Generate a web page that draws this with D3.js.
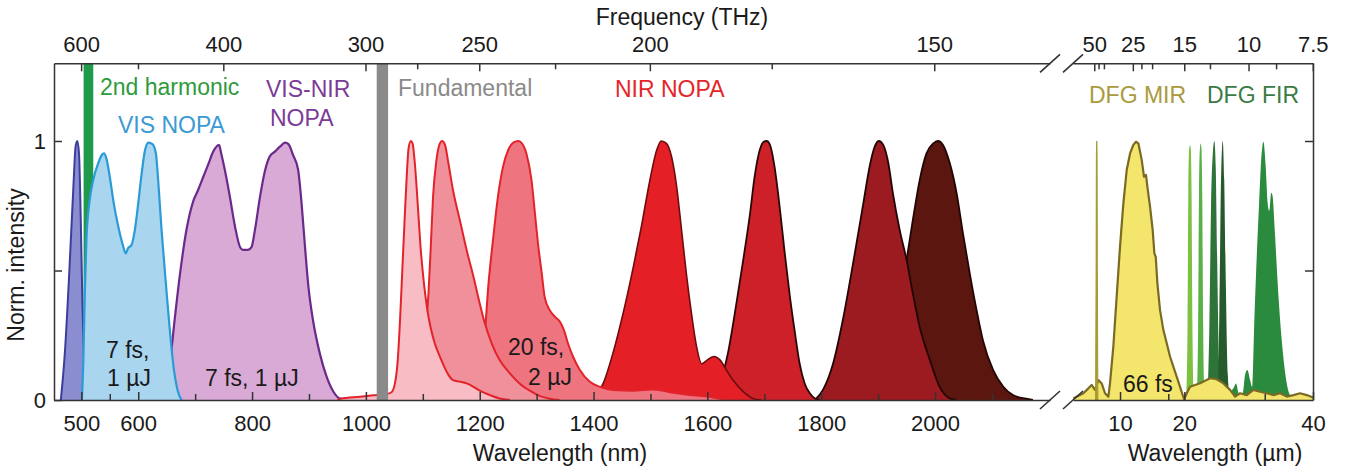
<!DOCTYPE html>
<html>
<head lang="en">
<meta charset="UTF-8">
<script src="https://cdn.jsdelivr.net/npm/d3@7/dist/d3.min.js"></script>
<style>
  body { margin: 0; background: #fff; }
  svg text { font-family: "Liberation Sans", Arial, sans-serif; }
</style>
</head>
<body>
<svg id="chart" width="1357" height="472"></svg>
<script>
// ---- data: wavelength in nm (left panel) / um (right panel), normalised intensity ----
var secondHarmonic = [504, 521];
var fundamental = [1019, 1039];

var blueSpec = [[464,0],[471,0.18],[479,0.5],[486,0.82],[490,0.98],[493,1.0],[496,0.95],[499,0.7],[502,0.37],[505,0.15],[508,0]];
var visNopa = [[501,0],[503.5,0.15],[506,0.4],[509,0.62],[514,0.76],[521,0.85],[529,0.91],[536,0.946],[540,0.952],[544,0.933],[550,0.862],[557,0.759],[565,0.669],[573,0.598],[578,0.566],[582,0.586],[588,0.598],[594,0.656],[600,0.759],[606,0.875],[612,0.965],[618,0.994],[625,0.988],[631,0.952],[635,0.849],[641,0.656],[649,0.438],[656,0.257],[662,0.129],[669,0.039],[676,0]];
var visNir = [[638,0],[647,0.05],[656,0.15],[664,0.31],[673,0.48],[685,0.66],[697,0.77],[705,0.81],[714,0.86],[723,0.91],[732,0.96],[738,0.98],[742,0.985],[746,0.95],[752,0.89],[761,0.785],[770,0.67],[779,0.59],[784,0.58],[793,0.58],[799,0.59],[805,0.656],[814,0.785],[823,0.888],[831,0.94],[840,0.959],[849,0.978],[858,0.994],[864,0.988],[872,0.946],[881,0.888],[887,0.759],[893,0.592],[899,0.438],[907,0.309],[919,0.18],[931,0.09],[943,0.032],[954,0.006],[966,0]];
var nirA = [[950,0],[955,0.005],[990,0.013],[1013,0.018],[1036,0.023],[1045,0.03],[1051,0.064],[1056,0.154],[1060,0.309],[1064,0.502],[1068,0.695],[1072,0.875],[1075,0.972],[1079,1.0],[1082,0.991],[1086,0.914],[1091,0.759],[1096,0.592],[1102,0.45],[1108,0.347],[1114,0.277],[1121,0.219],[1130,0.167],[1139,0.122],[1145,0.097],[1153,0.077],[1165,0.071],[1177,0.064],[1189,0.051],[1200,0.036],[1218,0.019],[1235,0.006],[1253,0]];
var nirB = [[1071,0],[1089,0.077],[1104,0.245],[1110,0.412],[1114,0.592],[1118,0.785],[1124,0.927],[1130,0.991],[1134,1.0],[1139,0.985],[1145,0.914],[1153,0.811],[1165,0.695],[1177,0.579],[1189,0.476],[1200,0.373],[1209,0.296],[1221,0.219],[1235,0.154],[1253,0.103],[1270,0.064],[1288,0.036],[1306,0.015],[1323,0.005],[1340,0]];
var nirC = [[1165,0],[1194,0.064],[1209,0.257],[1215,0.438],[1224,0.631],[1232,0.785],[1241,0.901],[1250,0.965],[1259,0.994],[1268,1.0],[1273,0.994],[1282,0.952],[1291,0.849],[1297,0.721],[1303,0.592],[1309,0.489],[1314,0.399],[1323,0.347],[1332,0.322],[1341,0.302],[1348,0.27],[1355,0.219],[1364,0.167],[1376,0.116],[1393,0.071],[1411,0.051],[1434,0.039],[1470,0.036],[1505,0.041],[1540,0.028],[1575,0.018],[1610,0.01],[1634,0]];
var nirD = [[1399,0],[1417,0.064],[1434,0.18],[1452,0.335],[1470,0.515],[1484,0.669],[1499,0.849],[1511,0.965],[1519,1.0],[1528,0.991],[1537,0.94],[1546,0.824],[1554,0.669],[1563,0.489],[1572,0.335],[1581,0.206],[1590,0.14],[1600,0.155],[1612,0.168],[1622,0.155],[1635,0.11],[1645,0.077],[1663,0.032],[1680,0.006],[1695,0]];
var nirE = [[1604,0],[1622,0.064],[1636,0.18],[1651,0.373],[1663,0.541],[1675,0.721],[1683,0.862],[1692,0.965],[1699,0.997],[1704,1.0],[1710,0.985],[1718,0.901],[1727,0.746],[1736,0.566],[1745,0.399],[1754,0.257],[1762,0.142],[1771,0.064],[1780,0.026],[1789,0.006],[1797,0]];
var nirF = [[1789,0],[1803,0.039],[1821,0.142],[1838,0.309],[1856,0.528],[1874,0.759],[1885,0.901],[1894,0.978],[1901,1.0],[1909,0.985],[1918,0.914],[1926,0.798],[1938,0.656],[1950,0.541],[1961,0.412],[1973,0.283],[1991,0.154],[2008,0.051],[2026,0.006],[2037,0]];
var nirG = [[1890,0],[1910,0.05],[1930,0.22],[1950,0.541],[1961,0.695],[1973,0.849],[1985,0.952],[1997,0.991],[2005,1.0],[2014,0.985],[2026,0.914],[2038,0.798],[2049,0.644],[2061,0.489],[2073,0.347],[2084,0.232],[2102,0.116],[2120,0.051],[2137,0.019],[2160,0.005],[2172,0]];

var mirLine = [[6.2,0],[6.28,0.5],[6.33,0.95],[6.38,1.0],[6.43,0.95],[6.48,0.5],[6.56,0]];
var mirBroad = [[2.74,0.006],[4.3,0.026],[5.08,0.045],[5.59,0.058],[6.11,0.039],[6.63,0.077],[7.15,0.064],[7.67,0.026],[8.19,0.013],[8.44,0.064],[8.96,0.206],[9.48,0.399],[10.0,0.592],[10.52,0.759],[11.04,0.888],[11.56,0.952],[12.07,0.985],[12.49,0.997],[12.85,0.991],[13.37,0.927],[13.73,0.862],[14.04,0.869],[14.25,0.824],[14.67,0.746],[15.08,0.656],[15.34,0.566],[15.55,0.553],[15.81,0.45],[16.22,0.347],[16.74,0.27],[17.26,0.219],[17.78,0.167],[18.29,0.129],[18.81,0.09],[19.33,0.051],[19.95,0.003],[20.37,0.026],[20.89,0.051],[22.44,0.065],[24.0,0.084],[25.03,0.08],[26.07,0.064],[27.11,0.039],[27.88,0.013],[28.66,0.026],[29.7,0.019],[30.74,0.039],[31.77,0.032],[32.81,0.026],[33.85,0.019],[34.88,0.026],[35.92,0.013],[36.96,0.019],[37.99,0.026],[39.03,0.019],[40,0.01]];
var firLine1 = [[20.3,0],[20.5,0.3],[20.62,0.8],[20.75,0.97],[20.89,0.985],[21.0,0.97],[21.12,0.8],[21.25,0.3],[21.45,0]];
var firLine2 = [[21.95,0],[22.15,0.3],[22.28,0.8],[22.42,0.97],[22.55,0.99],[22.66,0.97],[22.78,0.8],[22.92,0.3],[23.15,0]];
var firLine3 = [[23.6,0],[23.9,0.3],[24.15,0.75],[24.45,0.96],[24.67,1.0],[24.88,0.9],[25.1,0.55],[25.4,0.15],[25.8,0]];
var firLine4 = [[25.2,0],[25.45,0.35],[25.7,0.85],[25.97,1.0],[26.2,0.85],[26.45,0.45],[26.75,0.1],[27.1,0]];
var firBroad = [[26.9,0],[27.11,0.026],[27.63,0.045],[28.04,0.064],[28.46,0.026],[29.08,0.026],[29.44,0.097],[29.8,0.116],[30.22,0.077],[30.53,0.051],[30.84,0.27],[31.25,0.553],[31.62,0.759],[31.98,0.94],[32.29,0.997],[32.65,0.9],[32.95,0.76],[33.2,0.73],[33.5,0.8],[33.7,0.79],[34.05,0.656],[34.57,0.425],[35.09,0.245],[35.61,0.116],[36.13,0.039],[36.54,0.013],[36.9,0]];

// ---- axes tick values ----
var nmMajor = [500, 600, 800, 1000, 1200, 1400, 1600, 1800, 2000];
var nmMinor = [550, 700, 900, 1100, 1300, 1500, 1700, 1900, 2100];
var umMajor = [10, 20, 40];
var umMinor = [17.5, 32.5];
var thzMajorLeft = [600, 400, 300, 250, 200, 150];
var thzMinorLeft = [500, 275, 225, 175];
var thzMajorRight = [50, 25, 15, 10, 7.5];
var thzMinorRight = [45, 40, 22.5, 20, 12.5, 8.75];
var yMajor = [0, 1];
var yMinor = [0.5];

var C_NM = 299792.458; // nm * THz

var svg = d3.select('#chart');
var xL = d3.scaleLinear().domain([452, 2202]).range([54, 1050]);
var xR = d3.scaleLinear().domain([2.69, 40]).range([1073, 1313]);
var y = d3.scaleLinear().domain([0, 1.3]).range([400, 63.3]);

function drawSpec(g, x, data, fill, stroke, sw, curve) {
    var area = d3.area().x(function (d) { return x(d[0]); }).y0(y(0))
        .y1(function (d) { return y(d[1]); }).curve(curve || d3.curveMonotoneX);
    var line = d3.line().x(function (d) { return x(d[0]); })
        .y(function (d) { return y(d[1]); }).curve(curve || d3.curveMonotoneX);
    g.append('path').datum(data).attr('d', area).attr('fill', fill);
    if (stroke) {
        g.append('path').datum(data).attr('d', line).attr('fill', 'none')
            .attr('stroke', stroke).attr('stroke-width', sw).attr('stroke-linejoin', 'round');
    }
}

function band(g, x, b, color) {
    g.append('rect').attr('x', x(b[0])).attr('width', x(b[1]) - x(b[0]))
        .attr('y', y(1.3)).attr('height', y(0) - y(1.3)).attr('fill', color);
}

var gL = svg.append('g');
drawSpec(gL, xL, blueSpec, '#8a8dd0', '#3b3e9c', 2);
band(gL, xL, secondHarmonic, '#1f9a4a');
drawSpec(gL, xL, visNir, '#d9aad6', '#6a2a8a', 2.2);
drawSpec(gL, xL, visNopa, '#a9d5ef', '#2a9bd6', 2.2);
drawSpec(gL, xL, nirG, '#5b170f', '#220606', 1.8);
drawSpec(gL, xL, nirF, '#9c1b20', '#220606', 1.8);
drawSpec(gL, xL, nirE, '#cd2028', '#2a0808', 1.8);
drawSpec(gL, xL, nirD, '#e41f26', '#6e0c0e', 1.6);
drawSpec(gL, xL, nirC, '#ee7480', '#e3232a', 2);
drawSpec(gL, xL, nirB, '#f0909a', '#e3232a', 2);
drawSpec(gL, xL, nirA, '#f7bcc4', '#e3232a', 2);
band(gL, xL, fundamental, '#8a8a8a');

var gR = svg.append('g');
drawSpec(gR, xR, firLine1, '#7dc142');
drawSpec(gR, xR, firLine2, '#58b047');
drawSpec(gR, xR, firLine3, '#2e7337');
drawSpec(gR, xR, firLine4, '#255a2d');
drawSpec(gR, xR, firBroad, '#2a8a3d');
drawSpec(gR, xR, mirBroad, '#f4e66c', '#7a6a24', 2.2, d3.curveLinear);
drawSpec(gR, xR, mirLine, '#a69b30', '#a69b30', 1);

// ---- axes ----
var axisColor = '#333';
function styleAxis(g, labels) {
    g.selectAll('path, line').attr('stroke', axisColor).attr('stroke-width', 1.5);
    g.selectAll('text').attr('fill', '#1a1a1a').attr('font-size', 22)
        .attr('font-family', '"Liberation Sans", Arial, sans-serif');
    if (!labels) g.selectAll('text').remove();
}
function fmtTHz(d) { return String(Math.round(C_NM / d * 100) / 100); }
function fmtTHzUm(d) { return String(Math.round(C_NM / 1000 / d * 100) / 100); }
function noDomain(g) { g.select('.domain').remove(); }

// bottom, left panel
styleAxis(svg.append('g').attr('transform', 'translate(0,' + y(0) + ')')
    .call(d3.axisBottom(xL).tickValues(nmMajor).tickFormat(d3.format('d'))
        .tickSizeInner(-8).tickSizeOuter(0).tickPadding(15)), true);
styleAxis(svg.append('g').attr('transform', 'translate(0,' + y(0) + ')')
    .call(d3.axisBottom(xL).tickValues(nmMinor).tickSizeInner(-6).tickSizeOuter(0)).call(noDomain), false);
// bottom, right panel
styleAxis(svg.append('g').attr('transform', 'translate(0,' + y(0) + ')')
    .call(d3.axisBottom(xR).tickValues(umMajor).tickFormat(d3.format('d'))
        .tickSizeInner(-8).tickSizeOuter(0).tickPadding(15)), true);
styleAxis(svg.append('g').attr('transform', 'translate(0,' + y(0) + ')')
    .call(d3.axisBottom(xR).tickValues(umMinor).tickSizeInner(-6).tickSizeOuter(0)).call(noDomain), false);
// top frequency axes
styleAxis(svg.append('g').attr('transform', 'translate(0,' + y(1.3) + ')')
    .call(d3.axisTop(xL).tickValues(thzMajorLeft.map(function (f) { return C_NM / f; }))
        .tickFormat(fmtTHz).tickSizeInner(-8).tickSizeOuter(0).tickPadding(11)), true);
styleAxis(svg.append('g').attr('transform', 'translate(0,' + y(1.3) + ')')
    .call(d3.axisTop(xL).tickValues(thzMinorLeft.map(function (f) { return C_NM / f; }))
        .tickSizeInner(-6).tickSizeOuter(0)).call(noDomain), false);
styleAxis(svg.append('g').attr('transform', 'translate(0,' + y(1.3) + ')')
    .call(d3.axisTop(xR).tickValues(thzMajorRight.map(function (f) { return C_NM / 1000 / f; }))
        .tickFormat(fmtTHzUm).tickSizeInner(-8).tickSizeOuter(0).tickPadding(11)), true);
styleAxis(svg.append('g').attr('transform', 'translate(0,' + y(1.3) + ')')
    .call(d3.axisTop(xR).tickValues(thzMinorRight.map(function (f) { return C_NM / 1000 / f; }))
        .tickSizeInner(-6).tickSizeOuter(0)).call(noDomain), false);
// left and right frame
styleAxis(svg.append('g').attr('transform', 'translate(' + xL.range()[0] + ',0)')
    .call(d3.axisLeft(y).tickValues(yMajor).tickFormat(d3.format('d')).tickSizeInner(-8).tickSizeOuter(0).tickPadding(8)), true);
styleAxis(svg.append('g').attr('transform', 'translate(' + xL.range()[0] + ',0)')
    .call(d3.axisLeft(y).tickValues(yMinor).tickSizeInner(-8).tickSizeOuter(0)).call(noDomain), false);
styleAxis(svg.append('g').attr('transform', 'translate(' + xR.range()[1] + ',0)')
    .call(d3.axisRight(y).tickValues(yMinor.concat([1])).tickSizeInner(-8).tickSizeOuter(0)), false);

// axis break marks
var breakX = [xL.range()[1], xR.range()[0]];
[y(0), y(1.3)].forEach(function (yy) {
    breakX.forEach(function (bx) {
        svg.append('line').attr('x1', bx - 10).attr('y1', yy + 9).attr('x2', bx + 10).attr('y2', yy - 9)
            .attr('stroke', axisColor).attr('stroke-width', 1.6);
    });
});

// ---- titles and labels ----
function label(txt, x, yy, color, anchor, size) {
    return svg.append('text').attr('x', x).attr('y', yy).attr('fill', color)
        .attr('font-size', size || 23).attr('text-anchor', anchor || 'start').text(txt);
}
label('Frequency (THz)', 682, 25, '#1a1a1a', 'middle');
label('Wavelength (nm)', 560, 461, '#1a1a1a', 'middle');
label('Wavelength (\u00b5m)', 1215, 461, '#1a1a1a', 'middle');
svg.append('text').attr('transform', 'translate(24,265) rotate(-90)').attr('text-anchor', 'middle')
    .attr('font-size', 23).attr('fill', '#1a1a1a').text('Norm. intensity');

label('2nd harmonic', 100, 95, '#2e9a3e');
label('VIS NOPA', 118, 133, '#3a9ad4');
label('VIS-NIR', 266, 97, '#7b3b96');
label('NOPA', 270, 126, '#7b3b96');
label('Fundamental', 398, 96, '#8a8a8a');
label('NIR NOPA', 615, 97, '#e4262b');
label('DFG MIR', 1089, 103, '#a99a3c');
label('DFG FIR', 1207, 103, '#3d7a45');

label('7 fs,', 106, 358, '#1a1a1a');
label('1 \u00b5J', 107, 386, '#1a1a1a');
label('7 fs, 1 \u00b5J', 205, 386, '#1a1a1a');
label('20 fs,', 508, 355, '#1a1a1a');
label('2 \u00b5J', 528, 385, '#1a1a1a');
label('66 fs', 1123, 392, '#1a1a1a');
</script>
</body>
</html>
